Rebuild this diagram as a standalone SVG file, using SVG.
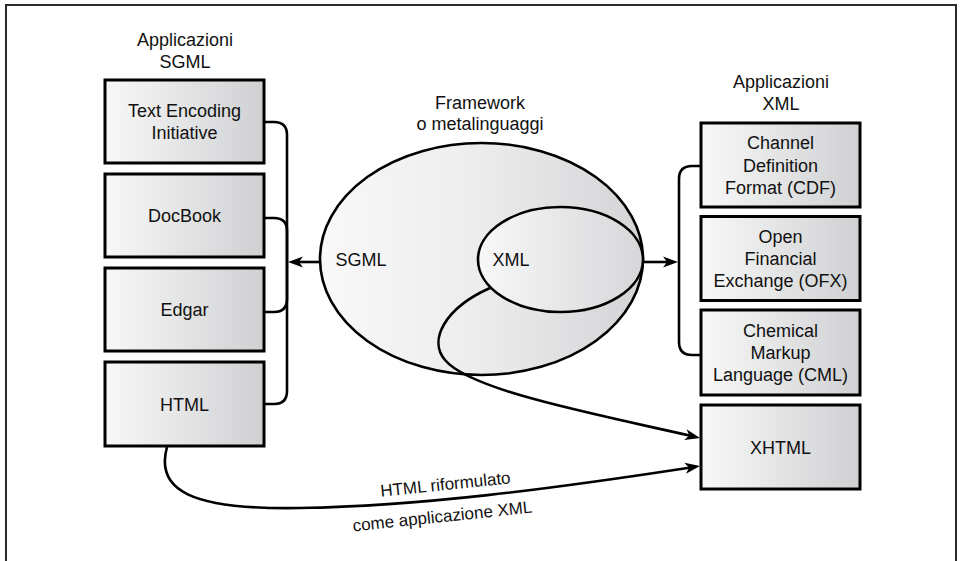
<svg xmlns="http://www.w3.org/2000/svg" width="962" height="561" viewBox="0 0 962 561">
  <defs>
    <linearGradient id="boxFill" x1="0" y1="0" x2="1" y2="0">
      <stop offset="0" stop-color="#f8f8f8"/>
      <stop offset="1" stop-color="#cfd0d2"/>
    </linearGradient>
    <linearGradient id="ovalFill" x1="0" y1="0" x2="1" y2="0">
      <stop offset="0" stop-color="#f9f9f9"/>
      <stop offset="0.5" stop-color="#ececed"/>
      <stop offset="1" stop-color="#d3d4d6"/>
    </linearGradient>
    <linearGradient id="innerFill" x1="0" y1="0" x2="1" y2="0">
      <stop offset="0" stop-color="#f8f8f8"/>
      <stop offset="1" stop-color="#d6d7d9"/>
    </linearGradient>
    <marker id="arrow" markerUnits="userSpaceOnUse" markerWidth="20" markerHeight="14" viewBox="0 -7 16 14" refX="4" refY="0" orient="auto">
      <path d="M0,-5.5 L15,0 L0,5.5 L4,0 Z" fill="#000"/>
    </marker>
  </defs>
  <style>
    .frame { fill: none; stroke: #2b2b2b; stroke-width: 2; }
    .box { fill: url(#boxFill); stroke: #000; stroke-width: 3; }
    .oval { fill: url(#ovalFill); stroke: #000; stroke-width: 2.6; }
    .inner { fill: url(#innerFill); stroke: #000; stroke-width: 2.6; }
    .link { fill: none; stroke: #000; stroke-width: 2.6; }
    .arrow { marker-end: url(#arrow); }
    text { font-family: "Liberation Sans", Arial, Helvetica, sans-serif; font-size: 18px; fill: #111; text-anchor: middle; }
    .small { font-size: 17px; }
  </style>

  <!-- page frame, open at the bottom -->
  <path class="frame" d="M6,561 V5 H956 V561"/>

  <!-- headings -->
  <g id="head-sgml">
    <text x="185" y="46">Applicazioni</text>
    <text x="185" y="68">SGML</text>
  </g>
  <g id="head-framework">
    <text x="480" y="109">Framework</text>
    <text x="480" y="130">o metalinguaggi</text>
  </g>
  <g id="head-xml">
    <text x="781" y="88">Applicazioni</text>
    <text x="781" y="110">XML</text>
  </g>

  <!-- framework ellipse with nested XML -->
  <g id="framework">
    <ellipse class="oval" cx="481.5" cy="259" rx="161.5" ry="116"/>
    <text x="361" y="266">SGML</text>
  </g>
  <g id="xml">
    <ellipse class="inner" cx="560.5" cy="259.5" rx="82.5" ry="52.5"/>
    <text x="511" y="266">XML</text>
  </g>

  <!-- SGML applications -->
  <g id="tei">
    <rect class="box" x="105" y="80" width="159" height="83"/>
    <text x="184.5" y="117">Text Encoding</text>
    <text x="184.5" y="138.5">Initiative</text>
  </g>
  <g id="docbook">
    <rect class="box" x="105" y="174" width="159" height="83"/>
    <text x="184.5" y="222">DocBook</text>
  </g>
  <g id="edgar">
    <rect class="box" x="105" y="268" width="159" height="83"/>
    <text x="184.5" y="316">Edgar</text>
  </g>
  <g id="html">
    <rect class="box" x="105" y="362" width="159" height="84"/>
    <text x="184.5" y="410.5">HTML</text>
  </g>

  <!-- XML applications -->
  <g id="cdf">
    <rect class="box" x="701" y="123" width="159" height="84"/>
    <text x="780.5" y="149.3">Channel</text>
    <text x="780.5" y="171.6">Definition</text>
    <text x="780.5" y="193.9">Format (CDF)</text>
  </g>
  <g id="ofx">
    <rect class="box" x="701" y="216.5" width="159" height="84"/>
    <text x="780.5" y="242.8">Open</text>
    <text x="780.5" y="265.1">Financial</text>
    <text x="780.5" y="287.4">Exchange (OFX)</text>
  </g>
  <g id="cml">
    <rect class="box" x="701" y="310" width="159" height="85"/>
    <text x="780.5" y="336.8">Chemical</text>
    <text x="780.5" y="359.1">Markup</text>
    <text x="780.5" y="381.4">Language (CML)</text>
  </g>
  <g id="xhtml">
    <rect class="box" x="701" y="405" width="159" height="84"/>
    <text x="780.5" y="453.5">XHTML</text>
  </g>

  <!-- connectors -->
  <g id="connectors">
    <!-- brackets grouping the SGML applications -->
    <path class="link" d="M264,122 H274 Q287,122 287,135 V391 Q287,404 274,404 H264"/>
    <path class="link" d="M264,218 H274 Q287,218 287,231 V299 Q287,312 274,312 H264"/>
    <!-- bracket grouping the XML applications -->
    <path class="link" d="M701,166 H692 Q679,166 679,179 V342 Q679,355 692,355 H701"/>
    <!-- framework to application groups -->
    <path class="link arrow" d="M320,262 H299"/>
    <path class="link arrow" d="M643,262 H667"/>
    <!-- XML to XHTML -->
    <path class="link arrow" d="M490,288 C445,308 428,340 445,360 C470,390 590,413 689.3,435.5"/>
    <!-- HTML recast as XML application -->
    <path class="link arrow" d="M167,447 C155,490 190,510 300,508 C420,506 550,489 689.1,467.7"/>
    <text class="small" transform="translate(446,490) rotate(-6)" x="0" y="0">HTML riformulato</text>
    <text class="small" transform="translate(443,522) rotate(-6)" x="0" y="0">come applicazione XML</text>
  </g>
</svg>
